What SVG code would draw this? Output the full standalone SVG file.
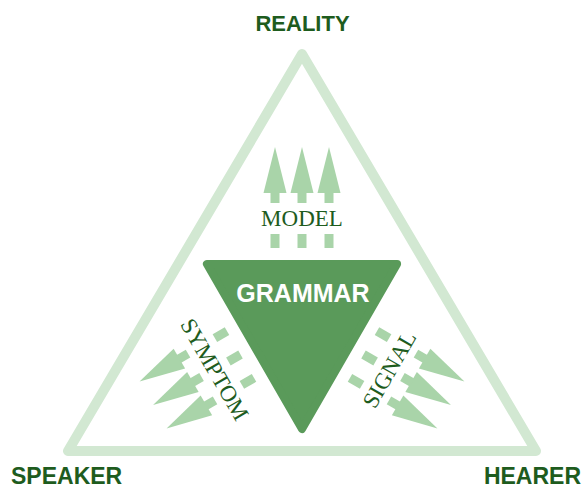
<svg xmlns="http://www.w3.org/2000/svg" xmlns:xlink="http://www.w3.org/1999/xlink" width="586" height="488" viewBox="0 0 586 488">
  <style>
    .label { font-family: "Liberation Sans", Arial, sans-serif; font-weight: bold; fill: #1e5c1e; }
    .serif { font-family: "Liberation Serif", "Times New Roman", serif; fill: #1e5c1e; font-size: 23px; }
    .arrow { fill: #a9d4a9; }
  </style>
  <defs>
    <g id="arrowset">
      <g class="arrow">
        <polygon points="275,147 263.5,193 286.5,193"/>
        <rect x="270.5" y="192" width="9" height="11"/>
        <rect x="270.5" y="234" width="9" height="14"/>
        <polygon points="302,147 290.5,193 313.5,193"/>
        <rect x="297.5" y="192" width="9" height="11"/>
        <rect x="297.5" y="234" width="9" height="14"/>
        <polygon points="329,147 317.5,193 340.5,193"/>
        <rect x="324.5" y="192" width="9" height="11"/>
        <rect x="324.5" y="234" width="9" height="14"/>
      </g>
    </g>
  </defs>
  <rect width="586" height="488" fill="#ffffff"/>

  <g id="outer-triangle">
    <polygon points="302,54 68,451 536,451" fill="none" stroke="#d2e8d2" stroke-width="10" stroke-linejoin="round"/>
  </g>

  <g id="connectors">
    <use xlink:href="#arrowset"/>
    <use xlink:href="#arrowset" transform="rotate(-120 302 319)"/>
    <use xlink:href="#arrowset" transform="rotate(120 302 319)"/>
  </g>

  <g id="grammar">
    <polygon points="206.9,264 397.1,264 302,429" fill="#5a9a5a" stroke="#5a9a5a" stroke-width="8" stroke-linejoin="round"/>
    <text x="303" y="302" text-anchor="middle" font-family="Liberation Sans, Arial, sans-serif" font-weight="bold" font-size="25" fill="#ffffff">GRAMMAR</text>
  </g>

  <g id="model">
    <text class="serif" x="302" y="225.5" text-anchor="middle">MODEL</text>
  </g>
  <g id="symptom">
    <text class="serif" x="0" y="0" text-anchor="middle" dominant-baseline="central" transform="translate(214.5 369.5) rotate(60)">SYMPTOM</text>
  </g>
  <g id="signal">
    <text class="serif" x="0" y="0" text-anchor="middle" dominant-baseline="central" transform="translate(389.5 369.5) rotate(-60)">SIGNAL</text>
  </g>

  <g id="reality">
    <text class="label" x="302.5" y="31" text-anchor="middle" font-size="22">REALITY</text>
  </g>
  <g id="speaker">
    <text class="label" x="11" y="484" font-size="23">SPEAKER</text>
  </g>
  <g id="hearer">
    <text class="label" x="581" y="484" text-anchor="end" font-size="23">HEARER</text>
  </g>
</svg>
